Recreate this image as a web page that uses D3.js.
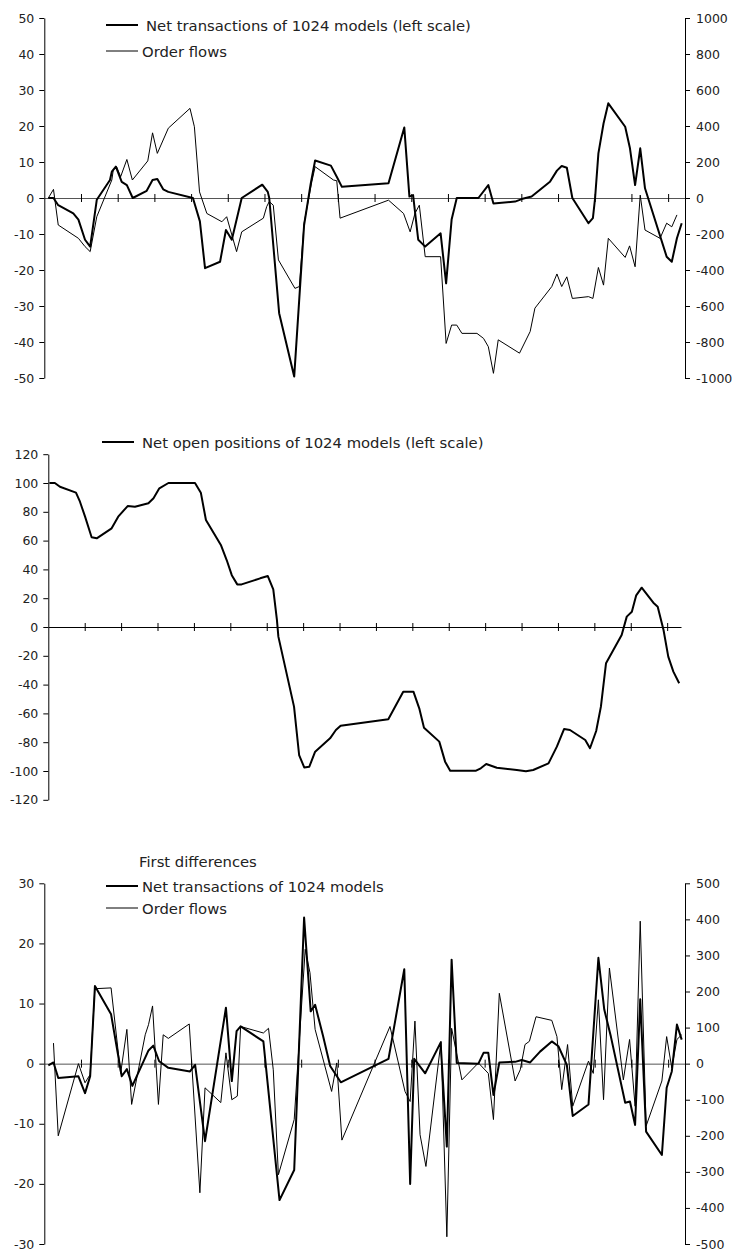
<!DOCTYPE html>
<html>
<head>
<meta charset="utf-8">
<script src="https://cdn.jsdelivr.net/npm/d3@7"></script>
<style>
  body { margin: 0; background: #fff; }
  text { font-family: "DejaVu Sans", sans-serif; fill: #222; }
  .tick text { font-size: 12.5px; }
  .legend { font-size: 14.8px; }
</style>
</head>
<body>
<svg width="735" height="1251"></svg>
<script>
// ---- panel 1: net transactions (left) and order flows (right), levels
const netTxT = [0.11,0.25,0.38,0.79,0.93,1.11,1.25,1.43,1.79,1.84,1.95,2.11,2.25,2.41,2.79,2.95,3.08,3.24,3.38,4.05,4.24,4.38,4.79,4.95,5.11,5.38,5.94,6.09,6.13,6.40,6.81,7.08,7.26,7.38,7.81,7.97,8.11,9.38,9.81,9.95,10.05,10.19,10.38,10.80,10.95,11.10,11.24,11.83,12.10,12.24,12.83,13.01,13.28,13.78,13.97,14.10,14.24,14.39,14.83,14.95,15.01,15.10,15.24,15.37,15.83,15.96,16.10,16.24,16.37,16.96,17.10,17.24,17.37];
const netTx = [0,0,-2,-4.3,-6,-11.6,-13.5,-0.5,5,7.3,8.7,4.5,3.6,0,2,5,5.3,2.4,1.7,0,-6.5,-19.5,-17.7,-8.9,-11.6,0,3.7,1.7,0,-32,-49.6,-7.5,4,10.4,9,5.9,3.1,4.1,19.6,0.4,0.8,-11.6,-13.5,-9.8,-23.7,-6,0,0,3.6,-1.5,-1,-0.3,0.4,4.5,7.6,8.9,8.4,0,-7,-5.6,0,12.4,20.7,26.3,19.8,13.8,3.6,13.8,2.7,-16.3,-17.7,-11.2,-7];

const flowsT = [0.11,0.25,0.38,0.93,1.11,1.25,1.43,1.84,1.88,1.97,2.08,2.25,2.40,2.82,2.95,3.08,3.38,3.97,4.09,4.23,4.43,4.84,4.97,5.24,5.38,5.97,6.06,6.13,6.24,6.38,6.83,6.95,7.08,7.29,7.38,7.88,7.97,8.06,9.38,9.79,9.97,10.10,10.22,10.38,10.80,10.95,11.10,11.24,11.38,11.79,11.97,12.10,12.24,12.37,12.95,13.24,13.37,13.83,13.97,14.10,14.24,14.39,14.83,14.95,15.10,15.24,15.37,15.83,15.95,16.10,16.24,16.37,16.78,16.96,17.10,17.24];
const flows = [0,48,-150,-224,-270,-298,-104,100,156,174,118,214,100,206,362,248,388,498,396,34,-86,-132,-104,-298,-188,-112,-48,-20,-40,-344,-502,-492,-140,90,174,100,96,-112,-12,-86,-188,-86,-40,-326,-326,-808,-706,-706,-752,-752,-780,-826,-974,-788,-862,-742,-612,-492,-422,-492,-438,-558,-548,-558,-386,-484,-224,-330,-266,-382,16,-178,-224,-140,-160,-94];

// ---- panel 2: net open positions
const openT = [0.03,0.18,0.32,0.76,0.87,1.01,1.19,1.33,1.74,1.92,2.18,2.38,2.75,2.89,3.05,3.30,4.03,4.19,4.33,4.74,4.90,5.04,5.19,5.31,5.82,6.03,6.18,6.28,6.32,6.75,6.89,7.03,7.17,7.33,7.74,7.90,8.03,9.34,9.75,10.03,10.19,10.32,10.74,10.90,11.04,11.75,11.88,12.03,12.32,12.87,13.12,13.32,13.74,13.97,14.17,14.33,14.75,14.88,15.05,15.18,15.32,15.75,15.89,16.03,16.15,16.30,16.62,16.74,16.90,17.03,17.17,17.33];
const openPos = [100,100,97.4,93.3,87,76.6,62.3,61.6,68.5,76.6,84,83.5,85.9,89.4,96.3,100,100,93.3,74.3,57,46.5,36,29.6,29.6,33.8,35.4,26.2,4.9,-6.7,-55.3,-88.9,-97.5,-97,-86.6,-77.3,-71.5,-68.5,-64.1,-44.9,-44.9,-56.5,-69.9,-79.6,-93.5,-99.8,-99.8,-98.1,-95.1,-97.7,-99.3,-100.2,-99.3,-94.7,-83.1,-70.8,-71.5,-78.5,-84.2,-72.2,-55.3,-25.2,-5.6,7.2,10.6,22,27.3,16.9,14.1,-2.1,-20.6,-31,-39.1];

// ---- panel 3: first differences
const dNetT = [0.11,0.25,0.38,0.93,1.11,1.25,1.38,1.82,2.11,2.25,2.40,2.84,2.97,3.13,3.38,3.97,4.11,4.38,4.95,5.11,5.24,5.35,5.97,6.41,6.81,7.08,7.26,7.38,7.60,7.79,8.08,9.38,9.81,9.97,10.08,10.38,10.80,10.97,11.10,11.24,11.83,11.97,12.10,12.24,12.40,12.83,13.01,13.24,13.51,13.83,14.01,14.24,14.40,14.83,15.10,15.26,15.44,15.83,15.96,16.10,16.24,16.40,16.83,16.96,17.10,17.24,17.37];
const dNet = [-0.3,0.2,-2.4,-2.1,-4.9,-2.1,12.9,8.2,-2.1,-0.9,-3.7,2.2,3,0.4,-0.7,-1.3,-0.2,-12.9,9.3,-2.9,5.4,6.2,3.7,-22.7,-17.7,24.3,8.7,9.8,4.5,-0.4,-3.1,0.8,15.7,-20,0.8,-1.6,3.5,-13.8,17.3,0.1,0,1.8,1.8,-5.2,0.2,0.3,0.6,0.2,2,3.7,2.9,-0.2,-8.7,-6.8,17.6,9,4.5,-6.5,-6.3,-10.2,10.7,-11.3,-15.2,-4,-1.3,6.5,4];

const dFlowsT = [0.25,0.38,0.93,1.11,1.25,1.38,1.43,1.82,2.08,2.25,2.38,2.75,2.84,2.95,3.11,3.24,3.38,3.95,4.24,4.38,4.81,4.95,5.11,5.26,5.35,5.97,6.11,6.24,6.38,6.81,7.11,7.24,7.38,7.83,7.97,8.11,9.42,9.83,9.97,10.10,10.24,10.40,10.81,10.97,11.10,11.38,11.83,12.10,12.24,12.40,12.83,12.97,13.10,13.22,13.40,13.83,13.97,14.10,14.26,14.40,14.83,14.96,15.10,15.24,15.40,15.78,15.95,16.10,16.24,16.40,16.83,16.96,17.10,17.24,17.37];
const dFlows = [57,-200,0,-53,-30,215,208,210,-27,95,-113,80,108,160,-113,80,70,110,-358,-67,-108,30,-100,-90,103,85,98,-17,-308,-155,317,252,95,-77,2,-212,103,-77,-105,118,-197,-285,62,-480,98,-45,2,-27,-155,195,-48,-17,53,62,130,120,75,-72,53,-118,7,-27,177,-100,265,-45,67,-118,395,-173,-48,75,-12,67,80];

// ---- axis ticks and legends
const monthTicks = d3.range(1, 18);
const topLeftTicks = d3.range(-50, 51, 10);
const topRightTicks = d3.range(-1000, 1001, 200);
const midLeftTicks = d3.range(-120, 121, 20);
const botLeftTicks = d3.range(-30, 31, 10);
const botRightTicks = d3.range(-500, 501, 100);

const svg = d3.select('svg');
const fmt = d => String(d);

function panel(o) {
    const g = svg.append('g');

    const x = d3.scaleLinear().domain(o.xDomain).range(o.xRange);
    const yL = d3.scaleLinear().domain(o.yLDomain).range(o.yRange);

    // zero line with crossing ticks
    g.append('g')
        .attr('transform', `translate(0,${yL(0)})`)
        .call(d3.axisBottom(x).tickValues(monthTicks).tickSize(4).tickSizeOuter(0).tickFormat(''))
        .call(a => a.select('.domain').attr('stroke', o.zeroColor));
    g.append('g')
        .attr('transform', `translate(0,${yL(0)})`)
        .call(d3.axisTop(x).tickValues(monthTicks).tickSize(4).tickSizeOuter(0).tickFormat(''))
        .call(a => a.select('.domain').remove());

    g.append('g')
        .attr('transform', `translate(${o.xRange[0]},0)`)
        .call(d3.axisLeft(yL).tickValues(o.leftTicks).tickSize(5).tickSizeOuter(0).tickPadding(5).tickFormat(fmt));

    let yR = null;
    if (o.rightTicks) {
        yR = d3.scaleLinear().domain(o.yRDomain).range(o.yRange);
        g.append('g')
            .attr('transform', `translate(${o.xRange[1]},0)`)
            .call(d3.axisRight(yR).tickValues(o.rightTicks).tickSize(5).tickSizeOuter(0).tickPadding(6).tickFormat(fmt));
    }

    o.series.forEach(s => {
        const y = s.axis === 'right' ? yR : yL;
        const line = d3.line().x(d => x(d[0])).y(d => y(d[1]));
        g.append('path')
            .datum(d3.zip(s.t, s.v))
            .attr('fill', 'none')
            .attr('stroke', '#000')
            .attr('stroke-width', s.width)
            .attr('stroke-linejoin', 'round')
            .attr('d', line);
    });

    o.legend.forEach(l => {
        if (l.width) {
            g.append('line')
                .attr('x1', l.x0).attr('x2', l.x0 + 32)
                .attr('y1', l.y).attr('y2', l.y)
                .attr('stroke', '#000').attr('stroke-width', l.width);
        }
        g.append('text')
            .attr('class', 'legend')
            .attr('x', l.tx)
            .attr('y', l.y + 5.5)
            .text(l.text);
    });
}

panel({
    xDomain: [0, 17.46], xRange: [44.3, 685],
    yLDomain: [-50, 50], yRange: [378, 18],
    yRDomain: [-1000, 1000],
    leftTicks: topLeftTicks, rightTicks: topRightTicks,
    zeroColor: '#555',
    series: [
        { t: netTxT, v: netTx, axis: 'left', width: 2 },
        { t: flowsT, v: flows, axis: 'right', width: 1 }
    ],
    legend: [
        { x0: 106, y: 25, tx: 146, width: 2, text: 'Net transactions of 1024 models (left scale)' },
        { x0: 106, y: 51, tx: 142, width: 1, text: 'Order flows' }
    ]
});

panel({
    xDomain: [0, 17.38], xRange: [48.3, 681],
    yLDomain: [-120, 120], yRange: [799.8, 454.2],
    leftTicks: midLeftTicks,
    zeroColor: '#000',
    series: [
        { t: openT, v: openPos, axis: 'left', width: 2 }
    ],
    legend: [
        { x0: 102, y: 442, tx: 142, width: 2, text: 'Net open positions of 1024 models (left scale)' }
    ]
});

panel({
    xDomain: [0, 17.46], xRange: [44.3, 685],
    yLDomain: [-30, 30], yRange: [1244, 883.3],
    yRDomain: [-500, 500],
    leftTicks: botLeftTicks, rightTicks: botRightTicks,
    zeroColor: '#555',
    series: [
        { t: dNetT, v: dNet, axis: 'left', width: 2 },
        { t: dFlowsT, v: dFlows, axis: 'right', width: 1 }
    ],
    legend: [
        { y: 861, tx: 139, text: 'First differences' },
        { x0: 106, y: 886, tx: 142, width: 2, text: 'Net transactions of 1024 models' },
        { x0: 106, y: 908, tx: 142, width: 1, text: 'Order flows' }
    ]
});
</script>
</body>
</html>
